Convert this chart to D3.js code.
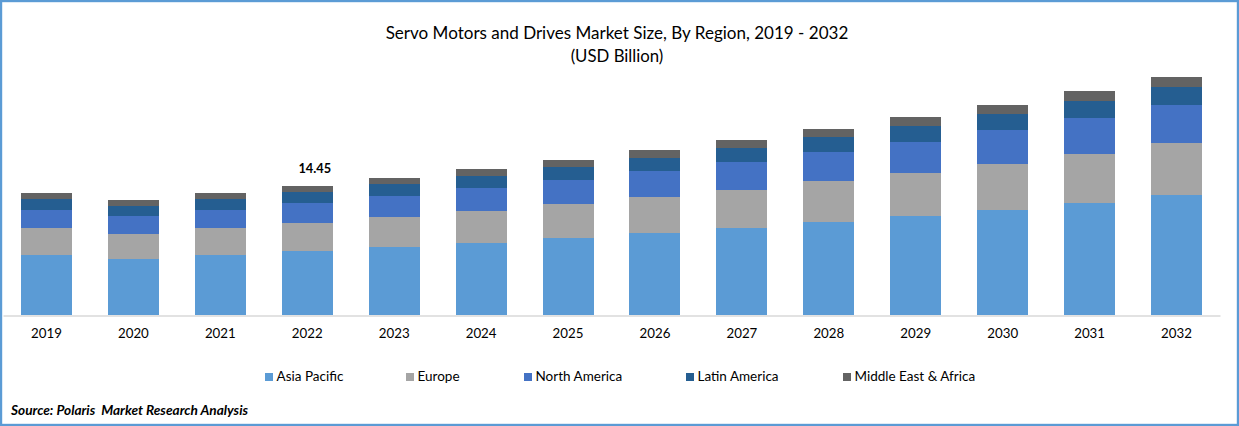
<!DOCTYPE html>
<html><head><meta charset="utf-8">
<script src="https://cdn.jsdelivr.net/npm/d3@7/dist/d3.min.js"></script>
<style>html,body{margin:0;padding:0;background:#fff;overflow:hidden}svg{display:block}text{font-family:Lato,"Noto Sans",sans-serif;fill:#000}</style>
</head><body><svg id="c" width="1239" height="426"></svg>
<script>
const years = ["2019","2020","2021","2022","2023","2024","2025","2026","2027","2028","2029","2030","2031","2032"];
const seriesNames = ["Asia Pacific","Europe","North America","Latin America","Middle East & Africa"];
const colors = ["#5b9bd5","#a5a5a5","#4472c4","#255e91","#636363"];
const asiaPacific = [6.72,6.27,6.72,7.17,7.62,8.07,8.63,9.19,9.75,10.42,11.09,11.76,12.55,13.44];
const europe = [3.02,2.80,3.02,3.14,3.36,3.58,3.81,4.03,4.26,4.59,4.82,5.15,5.49,5.83];
const northAmerica = [2.02,2.02,2.02,2.24,2.35,2.58,2.69,2.91,3.14,3.25,3.47,3.81,4.03,4.26];
const latinAmerica = [1.23,1.12,1.23,1.23,1.34,1.34,1.46,1.46,1.57,1.68,1.79,1.79,1.90,2.02];
const middleEastAfrica = [0.67,0.67,0.67,0.67,0.67,0.78,0.78,0.90,0.90,0.90,1.01,1.01,1.12,1.12];
const annotatedYear = "2022", annotatedLabel = "14.45";
const titleLines = ["Servo Motors and Drives Market Size, By Region, 2019 - 2032","(USD Billion)"];
const sourceText = "Source: Polaris  Market Research Analysis";
const legendX = [265,406,524,686,843];

const all = [asiaPacific,europe,northAmerica,latinAmerica,middleEastAfrica];
const svg = d3.select("#c");
svg.append("rect").attr("x",1).attr("y",1).attr("width",1237).attr("height",424)
  .attr("fill","#fff").attr("stroke","#5b9bd5").attr("stroke-width",2.4);

const x = d3.scaleBand().domain(years).range([3,1220]).paddingInner(0.413).paddingOuter(0.2065);
const y = d3.scaleLinear().domain([0,14.45]).range([315,186]);
const rows = years.map((yr,i)=>{const o={year:yr};seriesNames.forEach((s,k)=>o[s]=all[k][i]);return o;});
const stacked = d3.stack().keys(seriesNames)(rows);

svg.append("g").selectAll("g").data(stacked).join("g").attr("fill",(d,i)=>colors[i])
  .selectAll("rect").data(d=>d).join("rect")
  .attr("shape-rendering","crispEdges")
  .attr("x",d=>x(d.data.year)).attr("width",x.bandwidth())
  .attr("y",d=>y(d[1])).attr("height",d=>y(d[0])-y(d[1]));

const ax = svg.append("g").attr("transform","translate(0,315.5)").call(d3.axisBottom(x).tickSize(0).tickPadding(13));
ax.select(".domain").attr("stroke","#d9d9d9").attr("stroke-width",1.3);
ax.selectAll("text").attr("font-size",13.3).style("font-family","Lato").attr("fill","#000");

svg.append("text").attr("x",x(annotatedYear)+x.bandwidth()/2+7.5).attr("y",172.5).attr("text-anchor","middle")
  .attr("font-size",12.8).attr("font-weight",700).text(annotatedLabel);

svg.selectAll("text.t").data(titleLines).join("text").attr("class","t").attr("x",617).attr("y",(d,i)=>39+i*23)
  .attr("text-anchor","middle").attr("font-size",(d,i)=>i?16.8:17.05).text(d=>d);

const lg = svg.append("g").selectAll("g").data(seriesNames).join("g").attr("transform",(d,i)=>`translate(${legendX[i]},0)`);
lg.append("rect").attr("y",373).attr("width",8).attr("height",8).attr("fill",(d,i)=>colors[i]);
lg.append("text").attr("x",11.5).attr("y",381).attr("font-size",13.5).text(d=>d);

svg.append("text").attr("x",11).attr("y",415).attr("font-size",13.65).attr("font-weight",700).attr("font-style","italic").style("white-space","pre").text(sourceText);
</script></body></html>
